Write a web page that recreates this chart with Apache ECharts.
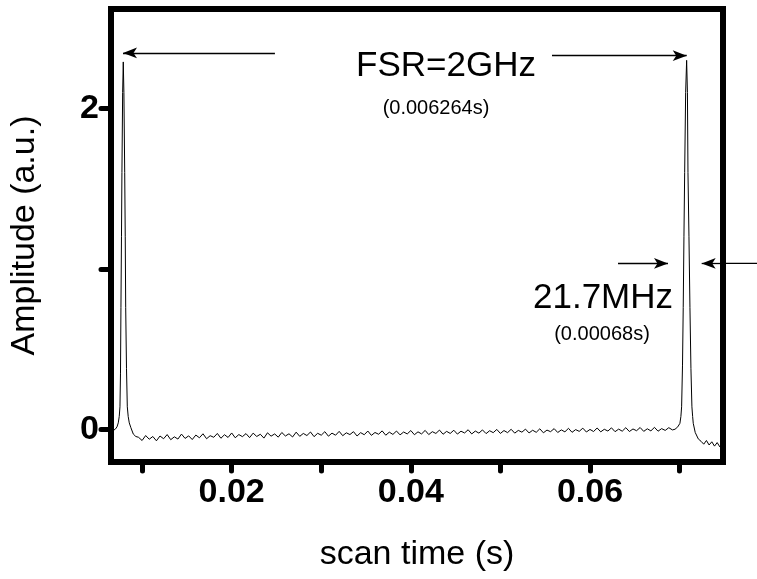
<!DOCTYPE html>
<html>
<head>
<meta charset="utf-8">
<script src="https://cdn.jsdelivr.net/npm/echarts@6/dist/echarts.min.js"></script>
<style>html,body{margin:0;padding:0;background:#fff}#c{width:757px;height:579px}</style>
</head>
<body>
<div id="c"></div>
<script>
// ---- data (scan time in s, amplitude in a.u.) ----
const xTicks = [0.01, 0.02, 0.03, 0.04, 0.05, 0.06, 0.07];
const xTickLabels = [0.02, 0.04, 0.06];
const yTicks = [0, 1, 2];
const yTickLabels = [0, 2];

const leftPeak = [
  [0.00653,-0.015],[0.00675,-0.010],[0.00700,0.000],[0.00720,0.015],[0.00734,0.040],
  [0.00745,0.080],[0.00753,0.140],[0.00759,0.350],[0.00764,0.760],[0.00770,1.200],
  [0.00775,1.600],[0.00783,2.100],[0.00790,2.290],[0.00797,2.100],[0.00806,1.600],
  [0.00812,1.200],[0.00817,0.760],[0.00826,0.380],[0.00835,0.140],[0.00845,0.080],
  [0.00857,0.040],[0.00875,0.010],[0.00902,-0.030],[0.00930,-0.045]
];

const baseline = [
  [0.0096,-0.050],[0.0100,-0.070],[0.0104,-0.039],[0.0108,-0.062],[0.0112,-0.045],
  [0.0116,-0.072],[0.0120,-0.042],[0.0124,-0.059],[0.0128,-0.033],[0.0132,-0.065],
  [0.0136,-0.047],[0.0140,-0.061],[0.0144,-0.030],[0.0148,-0.057],[0.0152,-0.041],
  [0.0156,-0.064],[0.0160,-0.036],[0.0164,-0.053],[0.0168,-0.028],[0.0172,-0.059],
  [0.0176,-0.040],[0.0180,-0.050],[0.0184,-0.026],[0.0188,-0.056],[0.0192,-0.034],
  [0.0196,-0.051],[0.0200,-0.023],[0.0204,-0.053],[0.0208,-0.033],[0.0212,-0.046],
  [0.0216,-0.027],[0.0220,-0.052],[0.0224,-0.024],[0.0228,-0.045],[0.0232,-0.031],
  [0.0236,-0.055],[0.0240,-0.022],[0.0244,-0.043],[0.0248,-0.029],[0.0252,-0.049],
  [0.0256,-0.020],[0.0260,-0.042],[0.0264,-0.028],[0.0268,-0.048],[0.0272,-0.018],
  [0.0276,-0.044],[0.0280,-0.026],[0.0284,-0.039],[0.0288,-0.017],[0.0292,-0.046],
  [0.0296,-0.025],[0.0300,-0.037],[0.0304,-0.015],[0.0308,-0.043],[0.0312,-0.024],
  [0.0316,-0.037],[0.0320,-0.013],[0.0324,-0.040],[0.0328,-0.022],[0.0332,-0.033],
  [0.0336,-0.015],[0.0340,-0.042],[0.0344,-0.021],[0.0348,-0.034],[0.0352,-0.011],
  [0.0356,-0.038],[0.0360,-0.020],[0.0364,-0.031],[0.0368,-0.010],[0.0372,-0.037],
  [0.0376,-0.018],[0.0380,-0.032],[0.0384,-0.011],[0.0388,-0.035],[0.0392,-0.017],
  [0.0396,-0.029],[0.0400,-0.008],[0.0404,-0.034],[0.0408,-0.016],[0.0412,-0.029],
  [0.0416,-0.007],[0.0420,-0.033],[0.0424,-0.015],[0.0428,-0.026],[0.0432,-0.005],
  [0.0436,-0.031],[0.0440,-0.013],[0.0444,-0.026],[0.0448,-0.006],[0.0452,-0.030],
  [0.0456,-0.012],[0.0460,-0.023],[0.0464,-0.003],[0.0468,-0.029],[0.0472,-0.011],
  [0.0476,-0.024],[0.0480,-0.004],[0.0484,-0.027],[0.0488,-0.009],[0.0492,-0.021],
  [0.0496,-0.001],[0.0500,-0.026],[0.0504,-0.008],[0.0508,-0.021],[0.0512,0.000],
  [0.0516,-0.024],[0.0520,-0.007],[0.0524,-0.018],[0.0528,0.001],[0.0532,-0.023],
  [0.0536,-0.006],[0.0540,-0.019],[0.0544,0.003],[0.0548,-0.022],[0.0552,-0.005],
  [0.0556,-0.015],[0.0560,0.004],[0.0564,-0.020],[0.0568,-0.004],[0.0572,-0.016],
  [0.0576,0.006],[0.0580,-0.019],[0.0584,-0.002],[0.0588,-0.013],[0.0592,0.007],
  [0.0596,-0.017],[0.0600,-0.001],[0.0604,-0.014],[0.0608,0.008],[0.0612,-0.016],
  [0.0616,0.000],[0.0620,-0.011],[0.0624,0.009],[0.0628,-0.015],[0.0632,0.001],
  [0.0636,-0.012],[0.0640,0.010],[0.0644,-0.014],[0.0648,0.002],[0.0652,-0.009],
  [0.0656,0.011],[0.0660,-0.013],[0.0664,0.003],[0.0668,-0.010],[0.0672,0.012],
  [0.0676,-0.012],[0.0680,0.004],[0.0684,-0.007],[0.0688,0.010],[0.0692,-0.004]
];

const rightPeak = [
  [0.06949,0.000],[0.06980,0.015],[0.07004,0.037],[0.07015,0.080],[0.07023,0.140],
  [0.07033,0.400],[0.07041,0.760],[0.07049,1.200],[0.07057,1.600],[0.07068,2.100],
  [0.07079,2.300],[0.07088,2.100],[0.07094,1.600],[0.07105,1.200],[0.07116,0.760],
  [0.07127,0.380],[0.07138,0.140],[0.07146,0.080],[0.07153,0.037],[0.07175,-0.020],
  [0.07209,-0.060]
];

const rightTail = [
  [0.07240,-0.075],[0.07270,-0.093],[0.07300,-0.070],[0.07330,-0.098],[0.07360,-0.078],
  [0.07390,-0.105],[0.07420,-0.083],[0.07450,-0.110],[0.07485,-0.090]
];

const xRange = [0.00653, 0.07485];
const yRange = [-0.204, 2.62];

// annotation arrows in data units: [x from, x to (arrow tip), y]
const arrows = [
  [0.02483, 0.00787, 2.346],
  [0.05576, 0.0708, 2.329],
  [0.06313, 0.06871, 1.034],
  [0.07485, 0.07247, 1.034]   // continues beyond the frame to the page edge
];

const FONT = "'Liberation Sans', Arial, Helvetica, sans-serif";

const chart = echarts.init(document.getElementById('c'), null, {renderer: 'canvas'});

const markLineData = arrows.map(a => [
  {coord: [a[0], a[2]], symbol: 'none'},
  {coord: [a[1], a[2]], symbol: 'arrow'}
]);

chart.setOption({
  animation: false,
  backgroundColor: '#fff',
  grid: {
    left: 111, right: 34, top: 9, bottom: 117,
    show: true, borderColor: '#000', borderWidth: 6, backgroundColor: 'transparent'
  },
  xAxis: [{
    type: 'value', min: xRange[0], max: xRange[1],
    axisLine: {show: false, onZero: false},
    axisTick: {show: true, inside: false, customValues: xTicks, length: 9, lineStyle: {color: '#000', width: 5, cap: 'round'}},
    axisLabel: {
      customValues: xTickLabels, margin: 14,
      color: '#000', fontFamily: FONT, fontWeight: 'bold', fontSize: 34,
      formatter: v => Number(v).toFixed(2)
    },
    splitLine: {show: false},
    name: 'scan time (s)', nameLocation: 'middle', nameGap: 76,
    nameTextStyle: {color: '#000', fontFamily: FONT, fontSize: 34}
  }, {
    type: 'value', position: 'top', min: xRange[0], max: xRange[1],
    axisLine: {show: false, onZero: false},
    axisTick: {show: true, customValues: xTicks, length: 3, lineStyle: {color: '#000', width: 4}},
    axisLabel: {show: false}, splitLine: {show: false}
  }],
  yAxis: [{
    type: 'value', min: yRange[0], max: yRange[1],
    axisLine: {show: false, onZero: false},
    axisTick: {show: true, inside: false, customValues: yTicks, length: 10, lineStyle: {color: '#000', width: 5, cap: 'round'}},
    axisLabel: {
      customValues: yTickLabels, margin: 12,
      color: '#000', fontFamily: FONT, fontWeight: 'bold', fontSize: 34,
      formatter: v => String(Math.round(v))
    },
    splitLine: {show: false},
    name: 'Amplitude (a.u.)', nameLocation: 'middle', nameGap: 69,
    nameTextStyle: {color: '#000', fontFamily: FONT, fontSize: 34}
  }, {
    type: 'value', position: 'right', min: yRange[0], max: yRange[1],
    axisLine: {show: false, onZero: false},
    axisTick: {show: true, customValues: yTicks, length: 3, lineStyle: {color: '#000', width: 4}},
    axisLabel: {show: false}, splitLine: {show: false}
  }],
  series: [{
    type: 'line',
    xAxisIndex: 0, yAxisIndex: 0,
    data: [].concat(leftPeak, baseline, rightPeak, rightTail),
    showSymbol: false, symbol: 'none',
    lineStyle: {color: '#000', width: 1},
    clip: false,
    silent: true,
    markLine: {
      silent: true,
      symbolSize: [8, 14],
      lineStyle: {color: '#000', width: 1.3, type: 'solid'},
      label: {show: false},
      emphasis: {disabled: true},
      data: markLineData
    }
  }],
  graphic: [
    {type: 'text', x: 446, y: 66, style: {text: 'FSR=2GHz', fill: '#000', font: '35px ' + FONT, textAlign: 'center', textVerticalAlign: 'middle'}},
    {type: 'text', x: 436, y: 108, style: {text: '(0.006264s)', fill: '#000', font: '20px ' + FONT, textAlign: 'center', textVerticalAlign: 'middle'}},
    {type: 'text', x: 603, y: 298, style: {text: '21.7MHz', fill: '#000', font: '35px ' + FONT, textAlign: 'center', textVerticalAlign: 'middle'}},
    {type: 'text', x: 602, y: 334, style: {text: '(0.00068s)', fill: '#000', font: '20px ' + FONT, textAlign: 'center', textVerticalAlign: 'middle'}}
  ]
});

// extend the last arrow's tail past the frame to the page edge
const tail = chart.convertToPixel({xAxisIndex: 0, yAxisIndex: 0}, [xRange[1], arrows[3][2]]);
chart.setOption({
  graphic: [{
    id: 'arrowTail', type: 'line',
    shape: {x1: tail[0], y1: tail[1], x2: 757, y2: tail[1]},
    style: {stroke: '#000', lineWidth: 1.3},
    z: 10
  }]
});
</script>
</body>
</html>
